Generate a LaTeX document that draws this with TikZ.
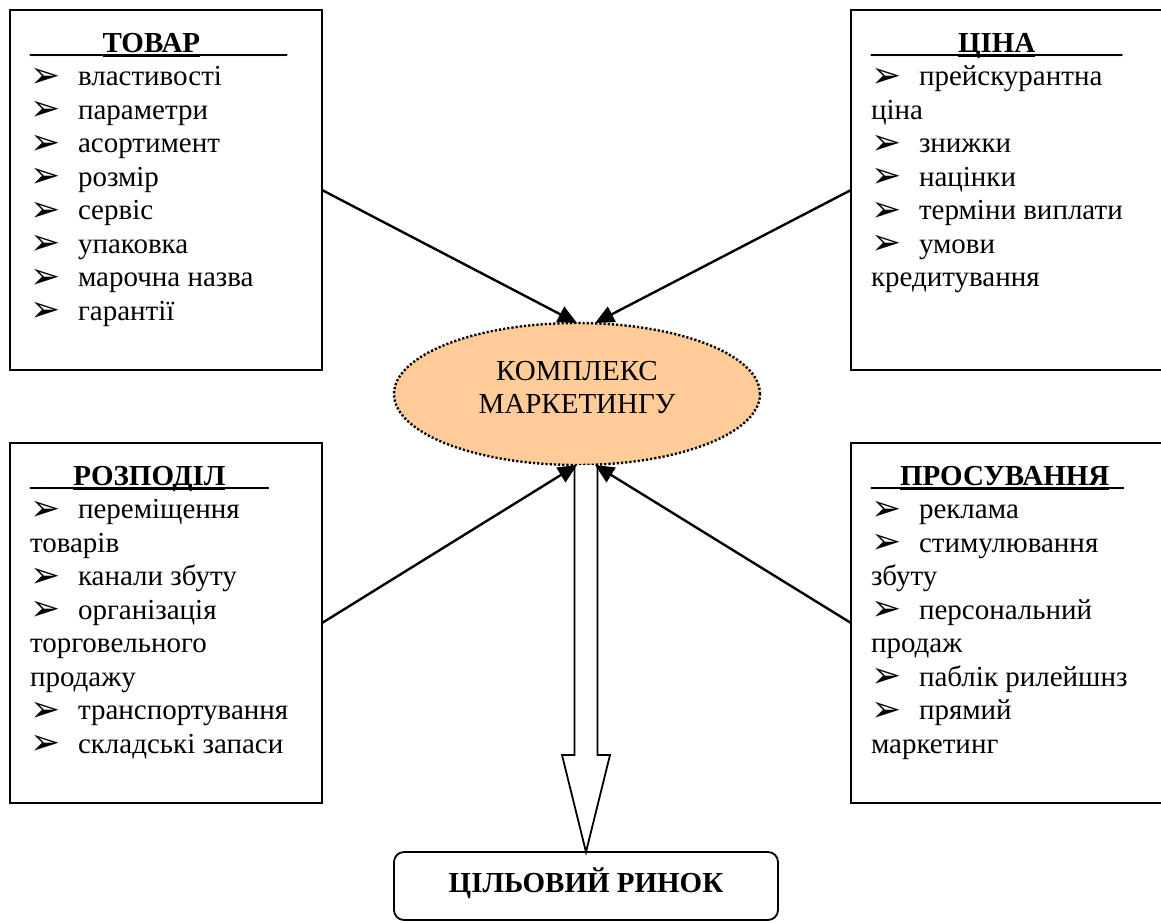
\documentclass[tikz,border=0pt]{standalone}
\usepackage{fontspec}
\setmainfont{Liberation Serif}
\newfontfamily\symfnt{DejaVu Sans}
\usetikzlibrary{arrows.meta,calc,shapes.geometric}
\newsavebox\ulbox
\newcommand\ulword[1]{\sbox\ulbox{#1}\rlap{\rule[-4.5pt]{\wd\ulbox}{2.4pt}}\usebox\ulbox}
\newcommand\ttl[3]{\textbf{#1\ulword{#2}#3}}
\newcommand\bul{\makebox[48pt][l]{\raisebox{-1.5pt}{\fontsize{36}{36}\symfnt ➢}}}
\definecolor{peach}{RGB}{255,204,153}
\tikzset{
  every node/.style={font=\fontsize{29}{33.5}\selectfont, inner sep=0pt, outer sep=0pt},
  boxst/.style={draw, line width=1.8pt, minimum width=312pt, minimum height=360pt},
  rboxst/.style={draw, line width=1.8pt, minimum width=314pt, minimum height=360pt},
  txtst/.style={anchor=base west},
  ellst/.style={ellipse, draw, fill=peach, line width=2.4pt, dash pattern=on 2.2pt off 2pt,
    minimum width=366pt, minimum height=142pt, text height=19pt, text depth=47pt},
  targetst/.style={draw, rounded corners=10pt, line width=1.8pt, minimum width=384pt,
    minimum height=68pt, text height=19pt, text depth=6pt, font=\fontsize{29}{33.5}\selectfont\bfseries},
  arr/.style={line width=2.4pt, -{Triangle[length=19pt,width=17pt]}},
  hollow/.style={line width=1.8pt, fill=white, line join=miter}
}
\begin{document}
\begin{tikzpicture}[x=1pt,y=-1pt]
\useasboundingbox (0,0) rectangle (1161,921);
% boxes
\node[boxst] (tovar) at (166,190) {};
\node[rboxst] (cina) at (1008,190) {};
\node[boxst] (rozp) at (166,623) {};
\node[rboxst] (pros) at (1008,623) {};
% texts
\node[txtst] (tovartxt) at ($(tovar.north west)+(20,42)$) {\begin{tabular}[t]{@{}l@{}}
\ttl{\_\_\_\_\_}{ТОВАР}{\_\_\_\_\_\_}\\
\bul властивості\\
\bul параметри\\
\bul асортимент\\
\bul розмір\\
\bul сервіс\\
\bul упаковка\\
\bul марочна назва\\
\bul гарантії
\end{tabular}};
\node[txtst] (cinatxt) at ($(cina.north west)+(20,42)$) {\begin{tabular}[t]{@{}l@{}}
\ttl{\_\_\_\_\_\_}{ЦІНА}{\_\_\_\_\_\_}\\
\bul прейскурантна\\
ціна\\
\bul знижки\\
\bul націнки\\
\bul терміни виплати\\
\bul умови\\
кредитування
\end{tabular}};
\node[txtst] (rozptxt) at ($(rozp.north west)+(20,42)$) {\begin{tabular}[t]{@{}l@{}}
\ttl{\_\_\_}{РОЗПОДІЛ}{\_\_\_}\\
\bul переміщення\\
товарів\\
\bul канали збуту\\
\bul організація\\
торговельного\\
продажу\\
\bul транспортування\\
\bul складські запаси
\end{tabular}};
\node[txtst] (prostxt) at ($(pros.north west)+(20,42)$) {\begin{tabular}[t]{@{}l@{}}
\ttl{\_\_}{ПРОСУВАННЯ}{\_}\\
\bul реклама\\
\bul стимулювання\\
збуту\\
\bul персональний\\
продаж\\
\bul паблік рилейшнз\\
\bul прямий\\
маркетинг
\end{tabular}};
% central ellipse
\node[ellst] (ell) at (577,394) {\begin{tabular}[t]{@{}c@{}}\fontsize{29}{33}\selectfont КОМПЛЕКС\\ МАРКЕТИНГУ\end{tabular}};
% target
\node[targetst] (target) at (586,886) {ЦІЛЬОВИЙ РИНОК};
% hollow arrow
\draw[hollow] ($(ell.south -| target.north)+(-11.5,0)$) -- ($(target.north)+(-11.5,-97)$)
  -- ($(target.north)+(-24,-97)$) -- (target.north) -- ($(target.north)+(24,-97)$)
  -- ($(target.north)+(11.5,-97)$) -- ($(ell.south -| target.north)+(11.5,0)$);
% arrows
\draw[arr] (tovar.east) -- (ell.north);
\draw[arr] (cina.west) -- ($(ell.north)+(18,0)$);
\draw[arr] (rozp.east) -- (ell.south);
\draw[arr] (pros.west) -- ($(ell.south)+(18,0)$);
\end{tikzpicture}
\end{document}
